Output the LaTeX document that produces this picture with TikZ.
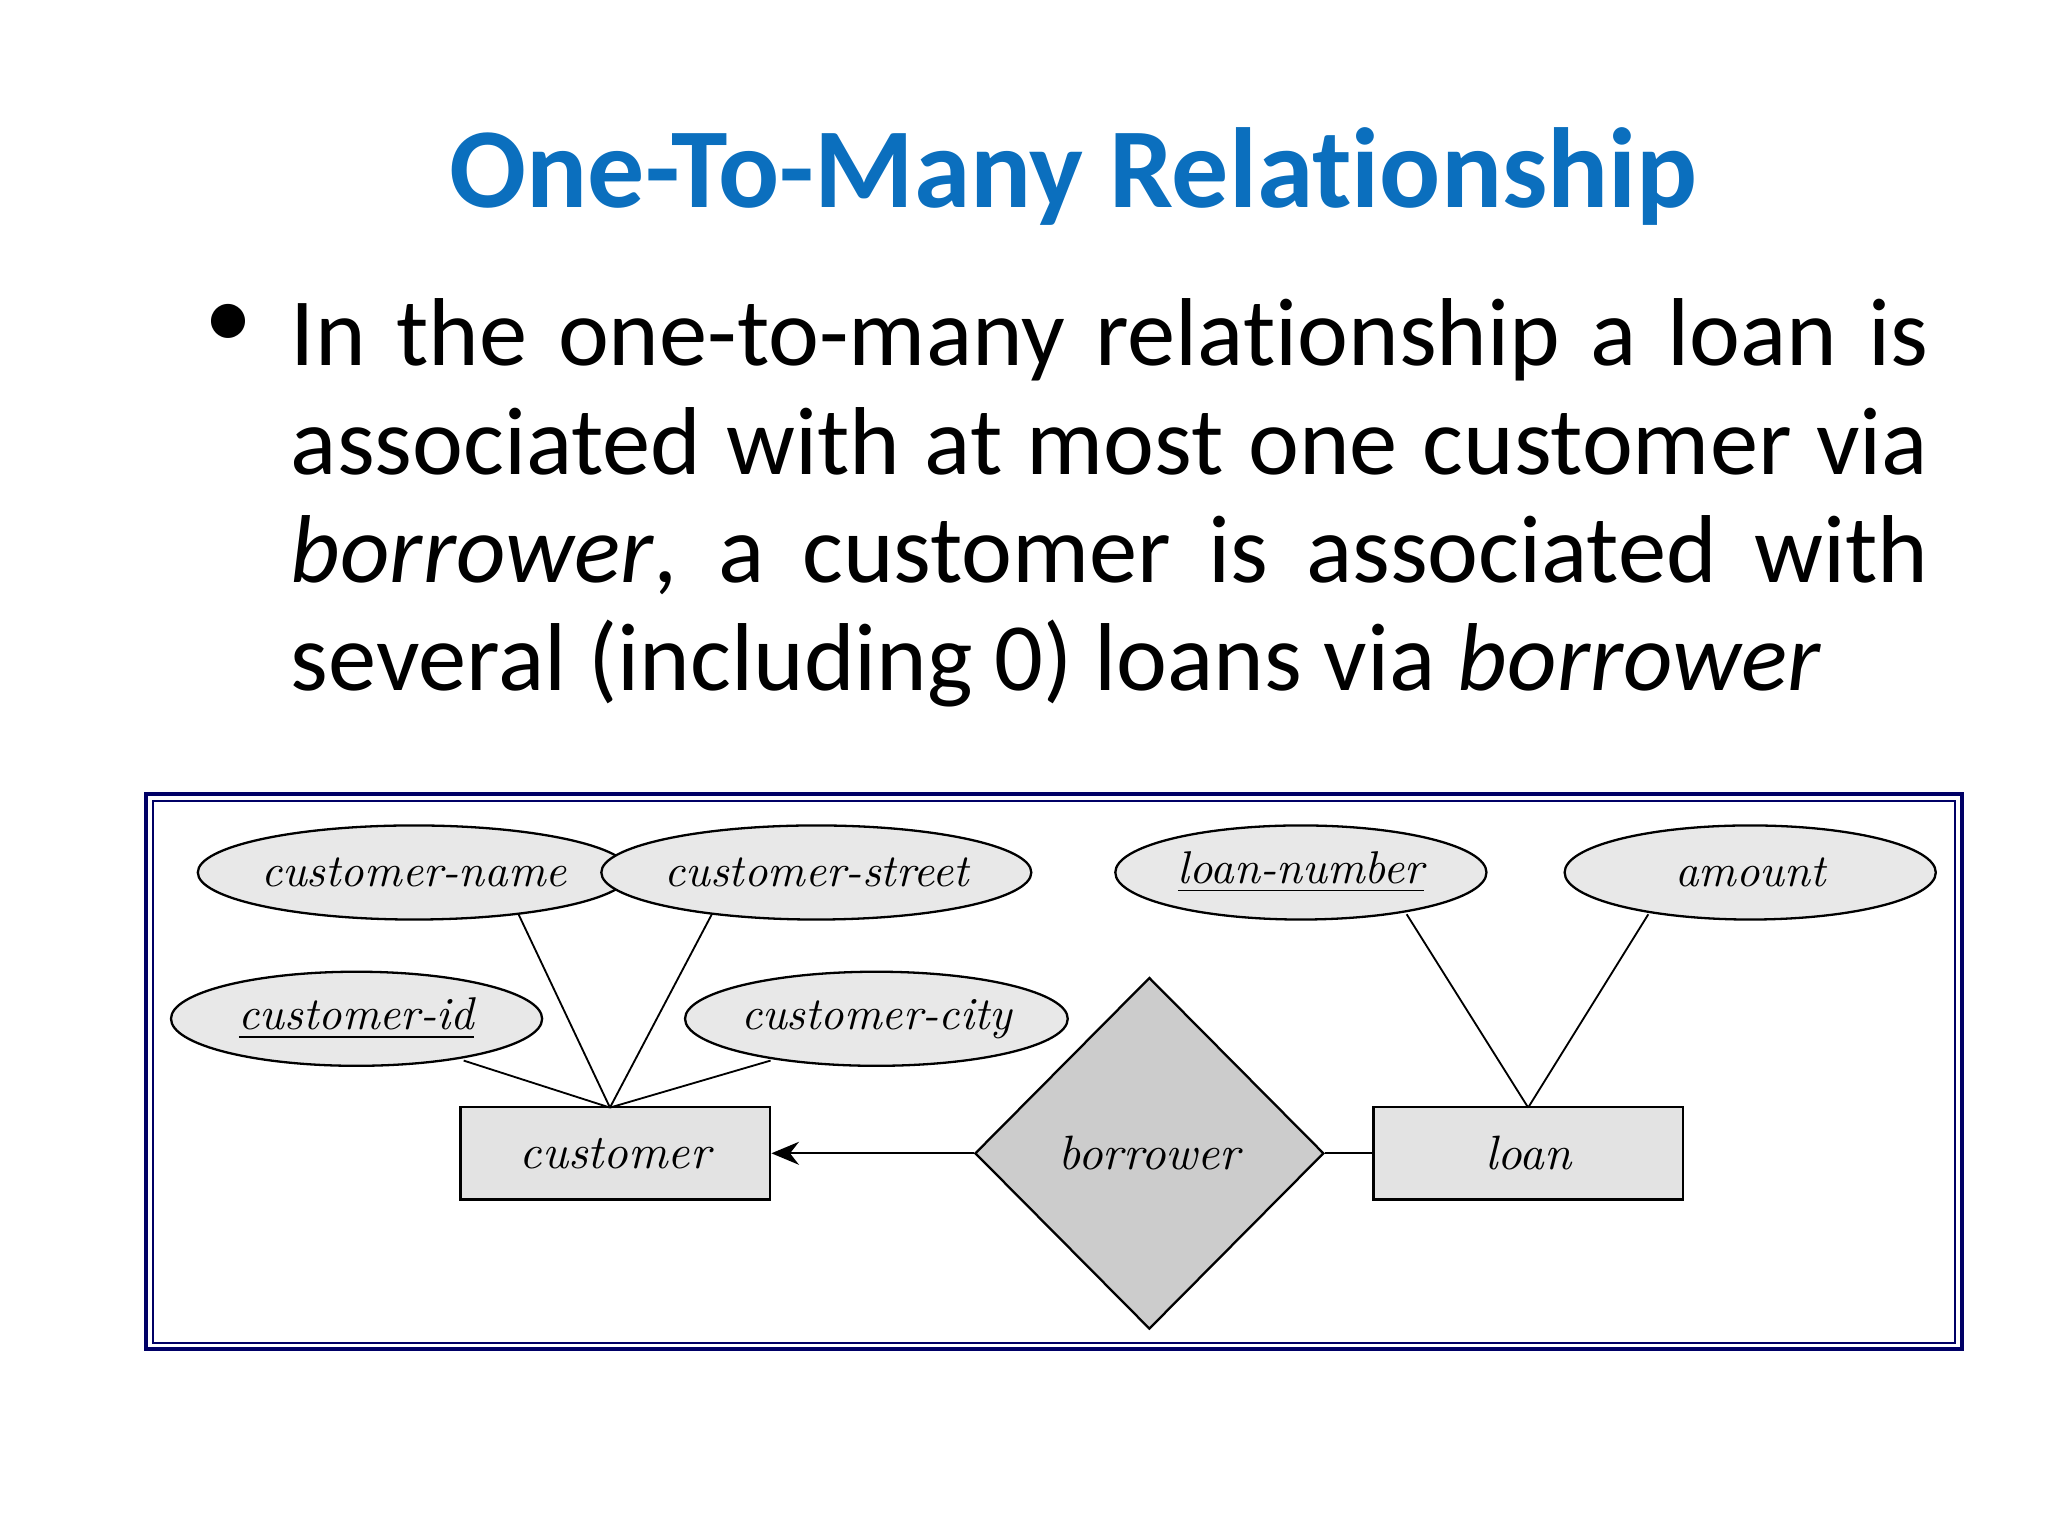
\documentclass[tikz,border=0pt]{standalone}
\usepackage{fontspec}
\setsansfont{Carlito}[Ligatures=NoCommon]
\usetikzlibrary{shapes.geometric,arrows.meta}
\definecolor{titleblue}{HTML}{0B6FBE}
\begin{document}
\begin{tikzpicture}[x=0.01cm,y=-0.01cm,
 attr/.style={ellipse,draw,fill=gray!18,line width=0.5pt,minimum width=2.84cm,minimum height=0.72cm,inner sep=0pt,font=\fontsize{10}{12}\selectfont\itshape},
 ent/.style={rectangle,draw,fill=gray!22,line width=0.6pt,minimum width=2.37cm,minimum height=0.71cm,font=\fontsize{10.5}{12}\selectfont\itshape},
 ln/.style={line width=0.4pt}]
\useasboundingbox (0,0) rectangle (1568,1176);
\node[font=\sffamily\bfseries\fontsize{24.8}{28}\selectfont,text=titleblue] (title) at (822,135) {One-To-Many Relationship};
\node[font=\sffamily\fontsize{21}{23.6}\selectfont,anchor=north west,text width=12.53cm,align=justify,inner sep=0pt] (body) at (222,228)
 {\hyphenpenalty=10000\exhyphenpenalty=10000 In the one-to-many relationship a loan is associated with at most one customer via \textit{borrower}, a customer is associated with several (including 0) loans via \textit{borrower}};
\node[font=\sffamily\fontsize{21}{23.6}\selectfont,anchor=north,inner sep=0pt] (bul) at (175,232) {•};
\draw[draw=blue!40!black,line width=0.8pt] (112,608) rectangle (1502,1033);
\draw[draw=blue!40!black,line width=0.5pt] (117,613) rectangle (1497,1028);
\node[attr] (cn) at (317,668) {customer-name};
\node[attr] (cs) at (625,668) {customer-street};
\node[attr] (lnum) at (996,668) {\underline{loan-number}};
\node[attr] (am) at (1340,668) {amount};
\node[attr] (cid) at (273,780) {\underline{customer-id}};
\node[attr] (cc) at (671,780) {customer-city};
\node[ent] (cu) at (471,883) {customer};
\node[ent] (lo) at (1170,883) {loan};
\node[diamond,draw,fill=gray!40,line width=0.5pt,minimum width=2.67cm,minimum height=2.69cm,inner sep=0pt,font=\fontsize{10.5}{12}\selectfont\itshape,aspect=1] (bo) at (880,883) {borrower};
\coordinate (ct) at (467,848);
\draw[ln] (397,700) -- (ct);
\draw[ln] (545,700) -- (ct);
\draw[ln] (355,812) -- (ct);
\draw[ln] (590,812) -- (ct);
\coordinate (lt) at (1170,848);
\draw[ln] (1077,700) -- (lt);
\draw[ln] (1262,700) -- (lt);
\draw[ln,-{Stealth[length=6pt,width=5pt]}] (bo.west) -- (cu.east);
\draw[ln] (bo.east) -- (lo.west);
\end{tikzpicture}
\end{document}
